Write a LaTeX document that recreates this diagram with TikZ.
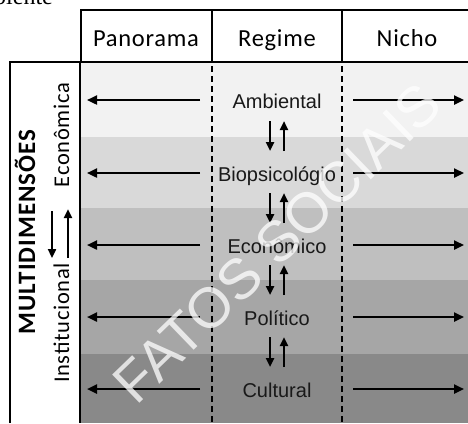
\documentclass[tikz,border=0pt]{standalone}
\usepackage{fontspec}
\setmainfont{Liberation Sans}
\newfontfamily\hdrfont{Carlito}[LetterSpace=3]
\newfontfamily\sidefont{Carlito}[LetterSpace=3]
\newfontfamily\sidebold{Carlito}[LetterSpace=4]
\newfontfamily\captfont{Liberation Serif}
\usetikzlibrary{arrows.meta}

\definecolor{bandA}{HTML}{F2F2F2}
\definecolor{bandB}{HTML}{D9D9D9}
\definecolor{bandC}{HTML}{BFBFBF}
\definecolor{bandD}{HTML}{A6A6A6}
\definecolor{bandE}{HTML}{898989}

\tikzset{
  frame/.style={line width=1.7bp, black},
  heavyframe/.style={line width=2.5bp, black},
  divider/.style={line width=2.4bp, black, dash pattern=on 6bp off 4bp},
  flow/.style={line width=2.3bp, black, -{Triangle[length=10bp,width=9bp]}},
  swap/.style={line width=2.3bp, black, -{Triangle[length=9bp,width=8bp]}},
  hdr/.style={anchor=base, inner sep=0pt, font=\hdrfont\fontsize{24.5bp}{28bp}\selectfont},
  lvl/.style={anchor=base, inner sep=0pt, text=black!90, font=\fontsize{20bp}{24bp}\selectfont},
  side/.style={anchor=base, inner sep=0pt, rotate=90, font=\sidefont\fontsize{22.5bp}{26bp}\selectfont},
  sidetitle/.style={anchor=base, inner sep=0pt, rotate=90, font=\sidebold\bfseries\fontsize{25bp}{29bp}\selectfont},
  stamp/.style={anchor=center, inner sep=0pt, rotate=44, text=white, text opacity=0.75,
                font=\fontsize{57bp}{60bp}\selectfont}
}

\begin{document}
\begin{tikzpicture}[x=1bp, y=-1bp]
  \useasboundingbox (0,0) rectangle (468,423);
  \clip (0,0) rectangle (468,423);
  \fill[white] (0,0) rectangle (468,423);

  % caption line running off the top edge
  \node[anchor=base west, inner sep=0pt, font=\captfont\fontsize{24bp}{28bp}\selectfont] (capt) at (-6,4) {biente};

  % shaded levels
  \fill[bandA] (81,62) rectangle (468,137);
  \fill[bandB] (81,137) rectangle (468,208);
  \fill[bandC] (81,208) rectangle (468,280);
  \fill[bandD] (81,280) rectangle (468,354);
  \fill[bandE] (81,354) rectangle (468,423);

  % table frame
  \draw[frame] (81,62) -- (81,10) -- (468,10);
  \draw[frame] (10,423) -- (10,62) -- (468,62);
  \draw[frame] (212,10) -- (212,62);
  \draw[frame] (342,10) -- (342,62);
  \draw[heavyframe] (80,62) -- (80,423);
  \draw[divider] (212,66) -- (212,423);
  \draw[divider] (342,66) -- (342,423);

  % column heads
  \node[hdr] (panorama) at (146,46) {Panorama};
  \node[hdr] (regime) at (277,46) {Regime};
  \node[hdr] (nicho) at (407,46) {Nicho};

  % levels of the regime
  \node[lvl] (amb) at (277,108) {Ambiental};
  \node[lvl] (bio) at (277,181) {Biopsicológio};
  \node[lvl] (eco) at (277,253) {Econômico};
  \node[lvl] (pol) at (277,325) {Político};
  \node[lvl] (cul) at (277,397) {Cultural};

  % outward arrows towards panorama and niche
  \foreach \n/\y in {1/100, 2/173, 3/245, 4/317, 5/389}{
    \coordinate (pin\n) at (200,\y);
    \coordinate (pout\n) at (87,\y);
    \coordinate (nin\n) at (353,\y);
    \coordinate (nout\n) at (464,\y);
    \draw[flow] (pin\n) -- (pout\n);
    \draw[flow] (nin\n) -- (nout\n);
  }

  % two-way links between neighbouring levels
  \foreach \n/\y in {1/136, 2/208, 3/280, 4/352}{
    \coordinate (dtop\n) at (270,\y-15);
    \coordinate (dbot\n) at (270,\y+15);
    \coordinate (utop\n) at (284,\y-15);
    \coordinate (ubot\n) at (284,\y+15);
    \draw[swap] (dtop\n) -- (dbot\n);
    \draw[swap] (ubot\n) -- (utop\n);
  }

  % side column
  \node[sidetitle] (multi) at (35,232) {MULTIDIMENSÕES};
  \node[side] (econ) at (69,135) {Econômica};
  \node[side] (inst) at (69,323) {Institucional};
  \coordinate (sdtop) at (52,211);
  \coordinate (sdbot) at (52,258);
  \coordinate (sutop) at (68,209);
  \coordinate (subot) at (68,258);
  \draw[swap] (sdtop) -- (sdbot);
  \draw[swap] (subot) -- (sutop);

  % watermark
  \node[stamp] (mark) at (277,243) {FATOS SOCIAIS};
\end{tikzpicture}
\end{document}
